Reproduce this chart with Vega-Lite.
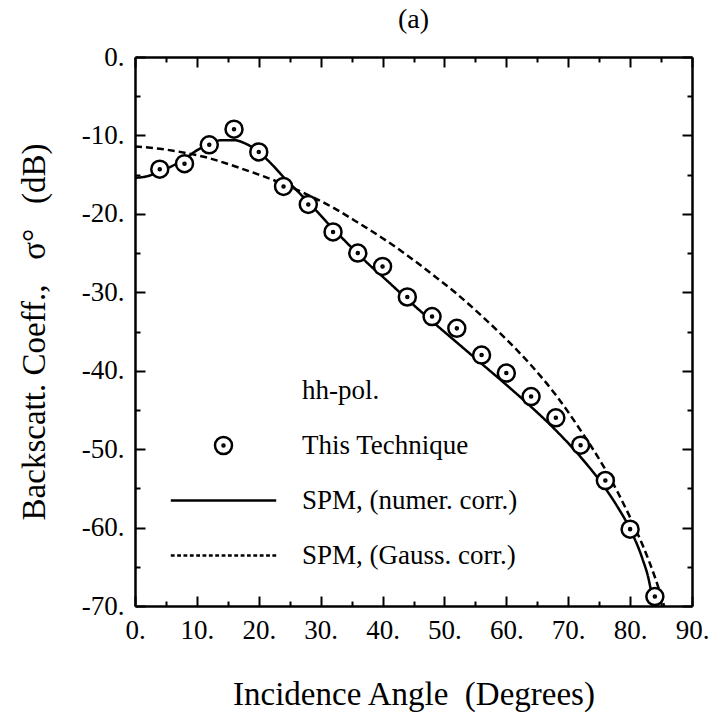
{
  "$schema": "https://vega.github.io/schema/vega-lite/v6.json",
  "width": 557,
  "height": 549,
  "autosize": {"type": "none"},
  "padding": {"left": 135, "top": 57, "right": 29, "bottom": 116},
  "background": "white",
  "title": {"text": "(a)", "fontSize": 28, "font": "Liberation Serif", "fontWeight": "normal", "color": "black", "offset": 9, "anchor": "middle"},
  "datasets": {
    "tech": [
      {"series": "This Technique", "angle": 4, "sigma": -14.3},
      {"series": "This Technique", "angle": 8, "sigma": -13.6},
      {"series": "This Technique", "angle": 12, "sigma": -11.2},
      {"series": "This Technique", "angle": 16, "sigma": -9.2},
      {"series": "This Technique", "angle": 20, "sigma": -12.1},
      {"series": "This Technique", "angle": 24, "sigma": -16.5},
      {"series": "This Technique", "angle": 28, "sigma": -18.8},
      {"series": "This Technique", "angle": 32, "sigma": -22.3},
      {"series": "This Technique", "angle": 36, "sigma": -25.0},
      {"series": "This Technique", "angle": 40, "sigma": -26.7},
      {"series": "This Technique", "angle": 44, "sigma": -30.6},
      {"series": "This Technique", "angle": 48, "sigma": -33.1},
      {"series": "This Technique", "angle": 52, "sigma": -34.6},
      {"series": "This Technique", "angle": 56, "sigma": -38.0},
      {"series": "This Technique", "angle": 60, "sigma": -40.3},
      {"series": "This Technique", "angle": 64, "sigma": -43.3},
      {"series": "This Technique", "angle": 68, "sigma": -46.0},
      {"series": "This Technique", "angle": 72, "sigma": -49.5},
      {"series": "This Technique", "angle": 76, "sigma": -54.0},
      {"series": "This Technique", "angle": 80, "sigma": -60.2},
      {"series": "This Technique", "angle": 84, "sigma": -68.8}
    ],
    "spm": [
      {"series": "SPM, (numer. corr.)", "angle": 0, "sigma": -15.4},
      {"series": "SPM, (numer. corr.)", "angle": 2, "sigma": -15.2},
      {"series": "SPM, (numer. corr.)", "angle": 4, "sigma": -14.6},
      {"series": "SPM, (numer. corr.)", "angle": 6, "sigma": -13.9},
      {"series": "SPM, (numer. corr.)", "angle": 8, "sigma": -13.0},
      {"series": "SPM, (numer. corr.)", "angle": 10, "sigma": -11.9},
      {"series": "SPM, (numer. corr.)", "angle": 12, "sigma": -11.1},
      {"series": "SPM, (numer. corr.)", "angle": 14, "sigma": -10.6},
      {"series": "SPM, (numer. corr.)", "angle": 16, "sigma": -10.6},
      {"series": "SPM, (numer. corr.)", "angle": 18, "sigma": -11.1},
      {"series": "SPM, (numer. corr.)", "angle": 20, "sigma": -12.1},
      {"series": "SPM, (numer. corr.)", "angle": 22, "sigma": -13.6},
      {"series": "SPM, (numer. corr.)", "angle": 24, "sigma": -15.3},
      {"series": "SPM, (numer. corr.)", "angle": 26, "sigma": -16.9},
      {"series": "SPM, (numer. corr.)", "angle": 28, "sigma": -18.5},
      {"series": "SPM, (numer. corr.)", "angle": 30, "sigma": -20.2},
      {"series": "SPM, (numer. corr.)", "angle": 32, "sigma": -21.9},
      {"series": "SPM, (numer. corr.)", "angle": 34, "sigma": -23.5},
      {"series": "SPM, (numer. corr.)", "angle": 36, "sigma": -25.1},
      {"series": "SPM, (numer. corr.)", "angle": 38, "sigma": -26.6},
      {"series": "SPM, (numer. corr.)", "angle": 40, "sigma": -28.0},
      {"series": "SPM, (numer. corr.)", "angle": 44, "sigma": -30.9},
      {"series": "SPM, (numer. corr.)", "angle": 48, "sigma": -33.7},
      {"series": "SPM, (numer. corr.)", "angle": 52, "sigma": -36.4},
      {"series": "SPM, (numer. corr.)", "angle": 56, "sigma": -39.1},
      {"series": "SPM, (numer. corr.)", "angle": 60, "sigma": -41.8},
      {"series": "SPM, (numer. corr.)", "angle": 64, "sigma": -44.6},
      {"series": "SPM, (numer. corr.)", "angle": 68, "sigma": -47.6},
      {"series": "SPM, (numer. corr.)", "angle": 72, "sigma": -51.0},
      {"series": "SPM, (numer. corr.)", "angle": 76, "sigma": -55.0},
      {"series": "SPM, (numer. corr.)", "angle": 78, "sigma": -57.4},
      {"series": "SPM, (numer. corr.)", "angle": 80, "sigma": -60.2},
      {"series": "SPM, (numer. corr.)", "angle": 82, "sigma": -64.0},
      {"series": "SPM, (numer. corr.)", "angle": 83, "sigma": -66.6},
      {"series": "SPM, (numer. corr.)", "angle": 83.8, "sigma": -70.0},
      {"series": "SPM, (Gauss. corr.)", "angle": 0, "sigma": -11.4},
      {"series": "SPM, (Gauss. corr.)", "angle": 4, "sigma": -11.7},
      {"series": "SPM, (Gauss. corr.)", "angle": 8, "sigma": -12.2},
      {"series": "SPM, (Gauss. corr.)", "angle": 12, "sigma": -12.9},
      {"series": "SPM, (Gauss. corr.)", "angle": 16, "sigma": -13.9},
      {"series": "SPM, (Gauss. corr.)", "angle": 20, "sigma": -15.0},
      {"series": "SPM, (Gauss. corr.)", "angle": 24, "sigma": -16.2},
      {"series": "SPM, (Gauss. corr.)", "angle": 28, "sigma": -17.6},
      {"series": "SPM, (Gauss. corr.)", "angle": 32, "sigma": -19.2},
      {"series": "SPM, (Gauss. corr.)", "angle": 36, "sigma": -21.1},
      {"series": "SPM, (Gauss. corr.)", "angle": 40, "sigma": -23.1},
      {"series": "SPM, (Gauss. corr.)", "angle": 44, "sigma": -25.3},
      {"series": "SPM, (Gauss. corr.)", "angle": 48, "sigma": -27.7},
      {"series": "SPM, (Gauss. corr.)", "angle": 52, "sigma": -30.2},
      {"series": "SPM, (Gauss. corr.)", "angle": 56, "sigma": -33.0},
      {"series": "SPM, (Gauss. corr.)", "angle": 60, "sigma": -36.0},
      {"series": "SPM, (Gauss. corr.)", "angle": 64, "sigma": -39.3},
      {"series": "SPM, (Gauss. corr.)", "angle": 68, "sigma": -43.1},
      {"series": "SPM, (Gauss. corr.)", "angle": 72, "sigma": -47.6},
      {"series": "SPM, (Gauss. corr.)", "angle": 76, "sigma": -52.6},
      {"series": "SPM, (Gauss. corr.)", "angle": 78, "sigma": -55.5},
      {"series": "SPM, (Gauss. corr.)", "angle": 80, "sigma": -58.7},
      {"series": "SPM, (Gauss. corr.)", "angle": 82, "sigma": -62.2},
      {"series": "SPM, (Gauss. corr.)", "angle": 84, "sigma": -66.3},
      {"series": "SPM, (Gauss. corr.)", "angle": 85.5, "sigma": -70.0}
    ]
  },
  "layer": [
    {
      "data": {"name": "spm"},
      "mark": {"type": "line", "interpolate": "monotone", "stroke": "black", "strokeWidth": 2.5},
      "encoding": {
        "x": {
          "field": "angle", "type": "quantitative",
          "scale": {"domain": [0, 90], "nice": false, "zero": false},
          "axis": {
            "orient": "top", "title": null, "labels": false,
            "values": [0, 5, 10, 15, 20, 25, 30, 35, 40, 45, 50, 55, 60, 65, 70, 75, 80, 85, 90],
            "tickSize": {"condition": {"test": "datum.value % 10 === 0", "value": -10}, "value": -5}
          }
        },
        "y": {
          "field": "sigma", "type": "quantitative",
          "scale": {"domain": [-70, 0], "nice": false, "zero": false},
          "axis": {
            "orient": "right", "title": null, "labels": false,
            "values": [-70, -65, -60, -55, -50, -45, -40, -35, -30, -25, -20, -15, -10, -5, 0],
            "tickSize": {"condition": {"test": "datum.value % 10 === 0", "value": -10}, "value": -5}
          }
        },
        "strokeDash": {
          "field": "series", "type": "nominal",
          "scale": {"domain": ["SPM, (numer. corr.)", "SPM, (Gauss. corr.)"], "range": [[1, 0], [7, 4]]},
          "legend": null
        }
      }
    },
    {
      "data": {"name": "tech"},
      "mark": {"type": "point", "filled": true, "fill": "white", "stroke": "black", "strokeWidth": 2.5, "size": 289, "opacity": 1},
      "encoding": {
        "x": {
          "field": "angle", "type": "quantitative",
          "scale": {"domain": [0, 90], "nice": false, "zero": false},
          "axis": {
            "orient": "bottom", "title": "Incidence Angle\u00a0 (Degrees)", "titlePadding": 30,
            "values": [0, 5, 10, 15, 20, 25, 30, 35, 40, 45, 50, 55, 60, 65, 70, 75, 80, 85, 90],
            "labelExpr": "datum.value % 10 === 0 ? (datum.value < 0 ? '-' + format(-datum.value, 'd') : format(datum.value, 'd')) + '.' : ''",
            "labelPadding": 21,
            "tickSize": {"condition": {"test": "datum.value % 10 === 0", "value": -10}, "value": -5}
          }
        },
        "y": {
          "field": "sigma", "type": "quantitative",
          "scale": {"domain": [-70, 0], "nice": false, "zero": false},
          "axis": {
            "orient": "left", "title": "Backscatt. Coeff.,\u00a0\u00a0 σ°\u00a0\u00a0 (dB)", "titlePadding": 30,
            "values": [-70, -65, -60, -55, -50, -45, -40, -35, -30, -25, -20, -15, -10, -5, 0],
            "labelExpr": "datum.value % 10 === 0 ? (datum.value < 0 ? '-' + format(-datum.value, 'd') : format(datum.value, 'd')) + '.' : ''",
            "labelPadding": 21,
            "tickSize": {"condition": {"test": "datum.value % 10 === 0", "value": -10}, "value": -5}
          }
        },
        "shape": {
          "field": "series", "type": "nominal",
          "scale": {
            "domain": ["This Technique", "SPM, (numer. corr.)", "SPM, (Gauss. corr.)"],
            "range": [
              "M-1,0A1,1,0,1,0,1,0A1,1,0,1,0,-1,0ZM-0.12,0A0.12,0.12,0,1,0,0.12,0A0.12,0.12,0,1,0,-0.12,0Z",
              "M-6.2,0H6.2",
              "M-6.2,0H-5.75M-5.45,0H-5M-4.71,0H-4.26M-3.96,0H-3.51M-3.21,0H-2.76M-2.47,0H-2.02M-1.72,0H-1.27M-0.97,0H-0.52M-0.22,0H0.23M0.52,0H0.97M1.27,0H1.72M2.02,0H2.47M2.76,0H3.21M3.51,0H3.96M4.26,0H4.71M5.01,0H5.46M5.75,0H6.2"
            ]
          },
          "legend": {
            "title": "hh-pol.", "orient": "none", "legendX": 167, "legendY": 321,
            "symbolOffset": -92, "labelOffset": 65, "symbolSize": 289, "symbolStrokeWidth": 2.5
          }
        }
      }
    }
  ],
  "resolve": {"axis": {"x": "independent", "y": "independent"}},
  "config": {
    "view": {"stroke": null},
    "axis": {
      "domainColor": "black", "domainWidth": 2.5, "tickColor": "black", "tickWidth": 2,
      "labelFont": "Liberation Serif", "labelFontSize": 27, "labelColor": "black",
      "titleFont": "Liberation Serif", "titleFontSize": 33, "titleFontWeight": "normal", "titleColor": "black",
      "grid": false, "labelFlush": false, "labelOverlap": false
    },
    "legend": {
      "titleFont": "Liberation Serif", "titleFontSize": 27, "titleFontWeight": "normal", "titleColor": "black",
      "labelFont": "Liberation Serif", "labelFontSize": 27, "labelColor": "black", "labelLimit": 400,
      "rowPadding": 27, "titlePadding": 27
    }
  }
}
